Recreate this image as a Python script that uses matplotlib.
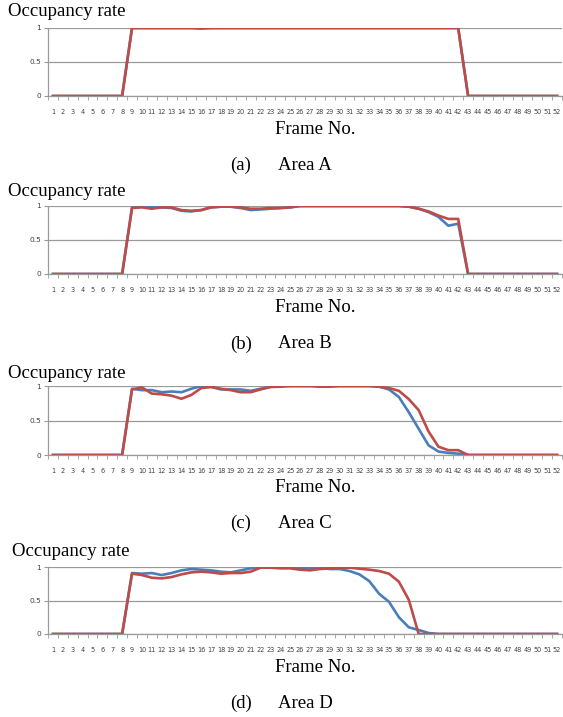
import matplotlib
matplotlib.use("Agg")
import matplotlib.pyplot as plt
from matplotlib.ticker import MultipleLocator

# Data (frames 1..52)
frames = list(range(1, 53))
frame_labels = [str(f) for f in frames]

area_a_blue = [0, 0, 0, 0, 0, 0, 0, 0,
               1.0, 1.0, 1.0, 1.0, 1.0, 1.0, 1.0, 0.99, 1.0, 1.0,
               1.0, 1.0, 1.0, 1.0, 1.0, 1.0, 1.0, 1.0, 1.0, 1.0,
               1.0, 1.0, 1.0, 1.0, 1.0, 1.0, 1.0, 1.0, 1.0, 1.0,
               1.0, 1.0, 1.0, 1.0,
               0, 0, 0, 0, 0, 0, 0, 0, 0, 0]
area_a_red = [0, 0, 0, 0, 0, 0, 0, 0,
              1.0, 1.0, 1.0, 1.0, 1.0, 1.0, 1.0, 1.0, 1.0, 1.0,
              1.0, 1.0, 1.0, 1.0, 1.0, 1.0, 1.0, 1.0, 1.0, 1.0,
              1.0, 1.0, 1.0, 1.0, 1.0, 1.0, 1.0, 1.0, 1.0, 1.0,
              1.0, 1.0, 1.0, 1.0,
              0, 0, 0, 0, 0, 0, 0, 0, 0, 0]

area_b_blue = [0, 0, 0, 0, 0, 0, 0, 0,
               0.98, 0.99, 0.99, 0.98, 0.97, 0.93, 0.92, 0.94, 0.98, 0.99,
               0.99, 0.97, 0.94, 0.95, 0.96, 0.97, 0.98, 1.0, 1.0, 1.0,
               1.0, 1.0, 1.0, 1.0, 1.0, 1.0, 1.0, 1.0, 0.99, 0.96,
               0.91, 0.84, 0.71, 0.74,
               0, 0, 0, 0, 0, 0, 0, 0, 0, 0]
area_b_red = [0, 0, 0, 0, 0, 0, 0, 0,
              0.97, 0.98, 0.96, 0.98, 0.98, 0.94, 0.93, 0.94, 0.98, 0.99,
              0.99, 0.98, 0.96, 0.96, 0.97, 0.97, 0.98, 1.0, 1.0, 1.0,
              1.0, 1.0, 1.0, 1.0, 1.0, 1.0, 1.0, 1.0, 0.99, 0.96,
              0.92, 0.86, 0.81, 0.81,
              0, 0, 0, 0, 0, 0, 0, 0, 0, 0]

area_c_blue = [0, 0, 0, 0, 0, 0, 0, 0,
               0.96, 0.94, 0.94, 0.91, 0.92, 0.91, 0.96, 1.0, 0.99, 0.95,
               0.95, 0.95, 0.93, 0.96, 0.99, 1.0, 1.0, 1.0, 1.0, 1.0,
               1.0, 1.0, 1.0, 1.0, 1.0, 0.99, 0.95, 0.84, 0.62, 0.38,
               0.14, 0.05, 0.03, 0.02,
               0, 0, 0, 0, 0, 0, 0, 0, 0, 0]
area_c_red = [0, 0, 0, 0, 0, 0, 0, 0,
              0.95, 0.98, 0.89, 0.88, 0.86, 0.815, 0.87, 0.97, 0.985, 0.96,
              0.94, 0.91, 0.91, 0.95, 0.985, 0.99, 1.0, 1.0, 1.0, 0.99,
              0.99, 1.0, 1.0, 1.0, 1.0, 0.99, 0.97, 0.93, 0.81, 0.65,
              0.34, 0.12, 0.07, 0.07,
              0, 0, 0, 0, 0, 0, 0, 0, 0, 0]

area_d_blue = [0, 0, 0, 0, 0, 0, 0, 0,
               0.91, 0.90, 0.91, 0.88, 0.91, 0.95, 0.97, 0.96, 0.95, 0.93,
               0.92, 0.95, 0.98, 0.99, 0.99, 0.99, 0.99, 0.99, 0.98, 0.99,
               0.97, 0.97, 0.94, 0.89, 0.79, 0.60, 0.48, 0.25, 0.10, 0.06,
               0.015, 0,
               0, 0, 0, 0, 0, 0, 0, 0, 0, 0, 0, 0]
area_d_red = [0, 0, 0, 0, 0, 0, 0, 0,
              0.90, 0.88, 0.84, 0.83, 0.85, 0.89, 0.92, 0.93, 0.92, 0.90,
              0.91, 0.91, 0.93, 0.99, 0.99, 0.98, 0.98, 0.96, 0.95, 0.97,
              0.98, 0.99, 0.99, 0.975, 0.96, 0.94, 0.90, 0.78, 0.51, 0.0,
              0, 0,
              0, 0, 0, 0, 0, 0, 0, 0, 0, 0, 0, 0]

panels = [
    ("(a)", "Area A", area_a_blue, area_a_red),
    ("(b)", "Area B", area_b_blue, area_b_red),
    ("(c)", "Area C", area_c_blue, area_c_red),
    ("(d)", "Area D", area_d_blue, area_d_red),
]

BLUE = "#4a7ebb"
RED = "#be4b48"
GRID = "#9a9a9a"
W, H = 563, 717

# pixel layout of each panel: (axes top, axes bottom, ylabel y, xlabel y, caption y, ylabel x)
layout = [
    (28, 96, 12, 130, 165, 8),
    (206, 274, 192, 308, 344, 8),
    (386, 455, 373, 488, 523, 8),
    (567, 634, 552, 668, 703, 12),
]

fig = plt.figure(figsize=(W / 100, H / 100), dpi=100)
serif = "Liberation Serif"
narrow = ["Liberation Sans Narrow", "DejaVu Sans"]

for (tag, name, blue, red), (top, bot, ly, xy, cy, lx) in zip(panels, layout):
    ax = fig.add_axes([48 / W, 1 - bot / H, 514 / W, (bot - top) / H])
    ax.plot(frames, blue, color=BLUE, lw=1.9, solid_joinstyle="round")
    ax.plot(frames, red, color=RED, lw=1.9, solid_joinstyle="round")
    ax.set_xlim(0.5, 52.5)
    ax.set_ylim(0, 1)
    ax.set_yticks([0, 0.5, 1])
    ax.set_yticklabels(["0", "0.5", "1"], fontsize=5.3, family=narrow, color="#404040")
    ax.yaxis.grid(True, color=GRID, lw=0.9)
    ax.set_axisbelow(True)
    ax.set_xticks(frames)
    ax.set_xticklabels(frame_labels, fontsize=4.7, family=narrow, color="#404040")
    ax.xaxis.set_minor_locator(MultipleLocator(1, offset=0.5))
    ax.tick_params(axis="x", which="major", length=0, pad=9)
    ax.tick_params(axis="x", which="minor", length=3, color=GRID, direction="out")
    ax.tick_params(axis="y", length=3, color=GRID, pad=2)
    for s in ["top", "right"]:
        ax.spines[s].set_visible(False)
    ax.spines["left"].set_color(GRID)
    ax.spines["bottom"].set_color(GRID)
    ax.spines["left"].set_linewidth(0.9)
    ax.spines["bottom"].set_linewidth(0.9)

    fig.text(lx / W, 1 - ly / H, "Occupancy rate", family=serif, fontsize=13.5,
             va="center", ha="left")
    fig.text(315 / W, 1 - xy / H, "Frame No.", family=serif, fontsize=13.5,
             va="center", ha="center")
    fig.text(241 / W, 1 - cy / H, tag, family=serif, fontsize=13.5,
             va="center", ha="center")
    fig.text(278 / W, 1 - cy / H, name, family=serif, fontsize=13.5,
             va="center", ha="left")

fig.savefig("out.png", dpi=100)
